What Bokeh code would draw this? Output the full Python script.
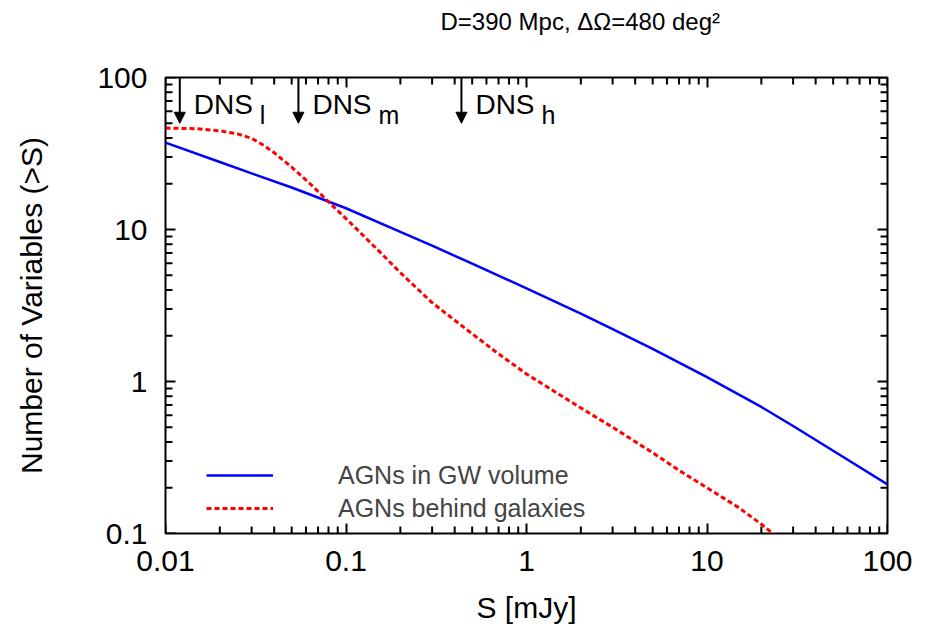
from bokeh.plotting import figure
from bokeh.models import (FixedTicker, CustomJSTickFormatter, LogAxis, Legend, LegendItem,
                          Arrow, NormalHead, ColumnDataSource, Range1d, Title)
from bokeh.core.properties import value
from bokeh.embed import file_html
from bokeh.resources import INLINE

FONT = "Liberation Sans"

# ---- data ----
blue_s = [0.01, 0.02, 0.03, 0.05, 0.1, 0.2, 0.3, 0.5, 1, 2, 3, 5, 10, 20, 30, 50, 100]
blue_n = [37.3, 27.8, 23.4, 18.9, 13.8, 9.66, 7.83, 5.96, 4.10, 2.80, 2.21, 1.64, 1.07, 0.68, 0.51, 0.35, 0.21]

red_s = [0.01, 0.015, 0.02, 0.025, 0.03, 0.035, 0.04, 0.05, 0.065, 0.08, 0.1, 0.15, 0.2, 0.3, 0.5,
         0.7, 1, 2, 3, 5, 7, 10, 15, 20, 25]
red_n = [46.5, 46.0, 44.6, 42.6, 39.8, 35.8, 32.0, 25.7, 19.4, 15.2, 11.8, 7.35, 5.2, 3.3, 2.06,
         1.52, 1.12, 0.67, 0.50, 0.34, 0.26, 0.20, 0.148, 0.115, 0.093]

dns_s = [0.012, 0.0545, 0.436]
dns_sub = ["l", "m", "h"]
dns_top = [100, 100, 100]
dns_tip = [50, 50, 50]
dns_label_y = [66, 66, 66]

x_ticks = [0.01, 0.1, 1, 10, 100]
y_ticks = [0.1, 1, 10, 100]
legend_labels = ["AGNs in GW volume", "AGNs behind galaxies"]
title_text = "D=390 Mpc, \u0394\u03a9=480 deg\u00b2"
x_label = "S [mJy]"
y_label = "Number of Variables (>S)"

FRAME_W, FRAME_H = 722, 456
MINOR_LEN = 7  # px


def minor(ticks):
    out = []
    for t in ticks[:-1]:
        out += [round(t * k, 6) for k in range(2, 10)]
    return out


x_minor = minor(x_ticks)
y_minor = minor(y_ticks)

p = figure(frame_width=FRAME_W, frame_height=FRAME_H, x_axis_type="log", y_axis_type="log",
           x_range=Range1d(x_ticks[0], x_ticks[-1]), y_range=Range1d(y_ticks[0], y_ticks[-1]),
           output_backend="svg", toolbar_location=None,
           min_border_left=165, min_border_right=45, min_border_top=77, min_border_bottom=101)
p.background_fill_color = "white"
p.border_fill_color = "white"
p.xgrid.visible = False
p.ygrid.visible = False
p.outline_line_color = "black"
p.outline_line_width = 2
p.outline_line_alpha = 1

fmt = CustomJSTickFormatter(code="return tick.toString();")


def label_axis(ax, ticks, label):
    ax.ticker = FixedTicker(ticks=ticks)
    ax.formatter = fmt
    ax.axis_line_alpha = 0
    ax.major_tick_in = 0
    ax.major_tick_out = 0
    ax.minor_tick_in = 0
    ax.minor_tick_out = 0
    ax.major_label_text_font = FONT
    ax.major_label_text_font_size = "30px"
    ax.major_label_text_color = "black"
    ax.axis_label = label
    ax.axis_label_text_font = FONT
    ax.axis_label_text_font_size = "30px"
    ax.axis_label_text_font_style = "normal"
    ax.axis_label_text_color = "black"


xa = p.xaxis[0]
label_axis(xa, x_ticks, x_label)
xa.major_label_standoff = 17
xa.axis_label_standoff = 17

ya = p.yaxis[0]
label_axis(ya, y_ticks, y_label)
ya.major_label_standoff = 18
ya.axis_label_standoff = 46


def tick_axis(ticks, edge, side):
    # major ticks: axis pinned on a frame edge, in the opposite panel so "out" ticks point inward
    ax = LogAxis(ticker=FixedTicker(ticks=ticks),
                 formatter=CustomJSTickFormatter(code="return '';"),
                 fixed_location=edge)
    ax.axis_line_alpha = 0
    ax.major_tick_in = 0
    ax.major_tick_out = 10
    ax.minor_tick_in = 0
    ax.minor_tick_out = 0
    ax.major_tick_line_width = 2
    ax.major_tick_line_color = "black"
    ax.major_label_text_font_size = "0px"
    ax.major_label_standoff = 0
    p.add_layout(ax, side)


tick_axis(x_ticks, y_ticks[0], "above")    # bottom edge
tick_axis(x_ticks, y_ticks[-1], "below")   # top edge
tick_axis(y_ticks, x_ticks[0], "right")    # left edge
tick_axis(y_ticks, x_ticks[-1], "left")    # right edge

# minor ticks as short segments pointing inward from each frame edge
fy = 10 ** (MINOR_LEN / (FRAME_H / 3))
fx = 10 ** (MINOR_LEN / (FRAME_W / 4))
nx, ny = len(x_minor), len(y_minor)
y_lo, y_hi = y_ticks[0], y_ticks[-1]
x_lo, x_hi = x_ticks[0], x_ticks[-1]
p.segment(x0=x_minor * 2, x1=x_minor * 2,
          y0=[y_lo] * nx + [y_hi] * nx, y1=[y_lo * fy] * nx + [y_hi / fy] * nx,
          line_color="black", line_width=2)
p.segment(x0=[x_lo] * ny + [x_hi] * ny, x1=[x_lo * fx] * ny + [x_hi / fx] * ny,
          y0=y_minor * 2, y1=y_minor * 2, line_color="black", line_width=2)

# spacer between frame and title (the plot title sits outermost in the top panel)
p.add_layout(Title(text=" ", text_font=FONT, text_font_size="24px", standoff=14), "above")

p.title.text = title_text
p.title.text_font = FONT
p.title.text_font_size = "24px"
p.title.text_font_style = "normal"
p.title.text_color = "black"
p.title.align = "left"
p.title.offset = 275
p.title.standoff = 0

rb = p.line(blue_s, blue_n, line_color="#0000ff", line_width=2.5)
rr = p.line(red_s, red_n, line_color="#ff0000", line_width=3, line_dash="5 3")

src = ColumnDataSource(dict(x=dns_s, y0=dns_top, y1=dns_tip, ly=dns_label_y,
                            main=["DNS"] * len(dns_s), sub=dns_sub))
p.add_layout(Arrow(end=NormalHead(size=11, fill_color="black", line_color="black", line_width=1),
                   x_start="x", y_start="y0", x_end="x", y_end="y1", source=src,
                   line_color="black", line_width=2))
p.text(x="x", y="ly", text="main", source=src, x_offset=14, text_font=value(FONT),
       text_font_size="28px", text_baseline="alphabetic", text_color="black")
p.text(x="x", y="ly", text="sub", source=src, x_offset=80, y_offset=10, text_font=value(FONT),
       text_font_size="25px", text_baseline="alphabetic", text_color="black")

legend = Legend(items=[LegendItem(label=legend_labels[0], renderers=[rb]),
                       LegendItem(label=legend_labels[1], renderers=[rr])],
                location=(41, 10))
legend.label_text_font = FONT
legend.label_text_font_size = "25px"
legend.glyph_width = 67
legend.glyph_height = 30
legend.label_height = 30
legend.label_standoff = 65
legend.spacing = 3
legend.padding = 0
legend.margin = 0
legend.border_line_alpha = 0
legend.background_fill_alpha = 0
p.add_layout(legend)

open("out.html", "w").write(file_html(p, INLINE))
